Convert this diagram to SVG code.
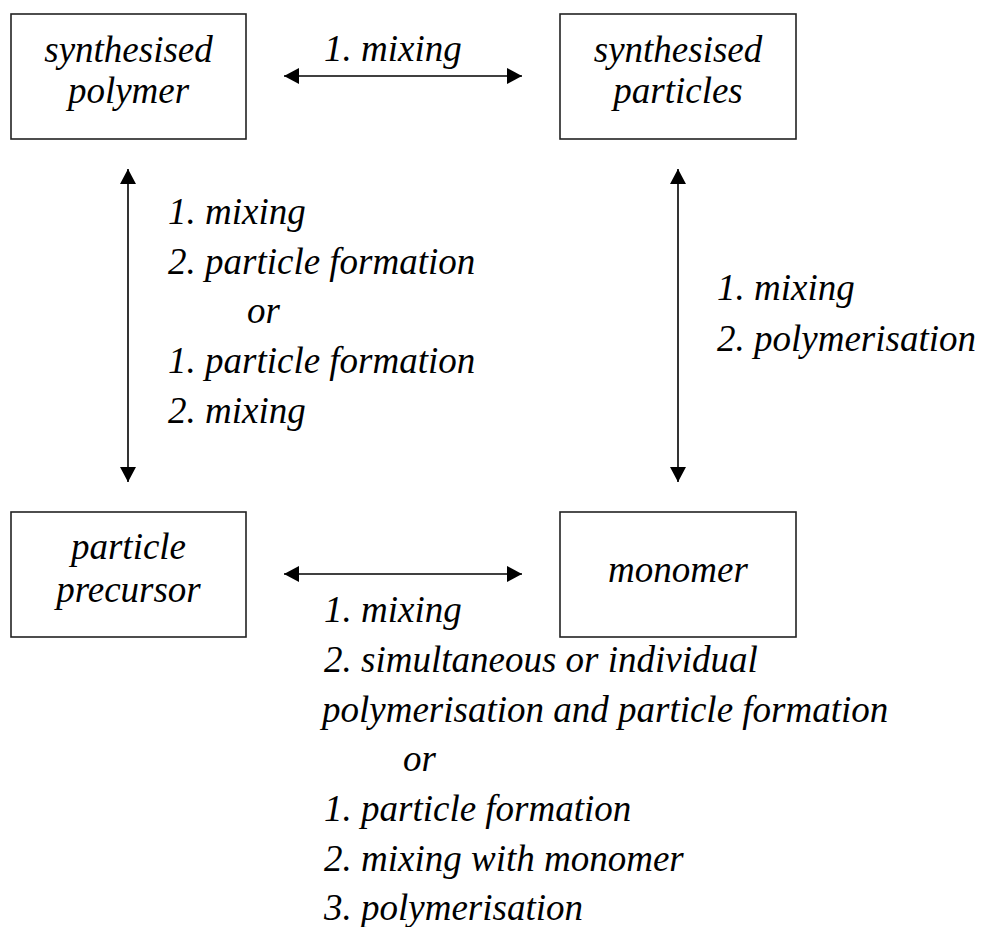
<svg xmlns="http://www.w3.org/2000/svg" width="984" height="927" viewBox="0 0 984 927">
<style>
.box{fill:#fff;stroke:#222;stroke-width:1.6}
.t{font-family:"Liberation Serif","Times New Roman",serif;font-style:italic;font-size:37px;fill:#000}
.c{text-anchor:middle}
.conn{stroke:#000;stroke-width:1.6;fill:none;marker-start:url(#ah);marker-end:url(#ah)}
</style>
<defs>
<marker id="ah" viewBox="0 0 15 16" refX="15" refY="8" markerWidth="15" markerHeight="16" markerUnits="userSpaceOnUse" orient="auto-start-reverse">
<path d="M0,0 L15,8 L0,16 z" fill="#000"/>
</marker>
</defs>
<rect width="984" height="927" fill="#fff"/>
<g id="n-synth-polymer">
<rect class="box" x="11" y="14" width="235" height="125"/>
<text class="t c" x="128.5" y="62">synthesised</text>
<text class="t c" x="128.5" y="103">polymer</text>
</g>
<g id="n-synth-particles">
<rect class="box" x="560" y="14" width="236" height="125"/>
<text class="t c" x="678" y="62">synthesised</text>
<text class="t c" x="678" y="103">particles</text>
</g>
<g id="n-precursor">
<rect class="box" x="11" y="512" width="235" height="125"/>
<text class="t c" x="128.5" y="559">particle</text>
<text class="t c" x="128.5" y="602">precursor</text>
</g>
<g id="n-monomer">
<rect class="box" x="560" y="512" width="236" height="125"/>
<text class="t c" x="678" y="582">monomer</text>
</g>
<g id="connectors">
<line class="conn" x1="284" y1="76" x2="522" y2="76"/>
<line class="conn" x1="284" y1="574" x2="522" y2="574"/>
<line class="conn" x1="128" y1="169" x2="128" y2="482"/>
<line class="conn" x1="678" y1="169" x2="678" y2="482"/>
</g>
<g id="labels">
<text class="t" x="324" y="61">1. mixing</text>
<text class="t" x="168" y="224">1. mixing</text>
<text class="t" x="168" y="274">2. particle formation</text>
<text class="t" x="247" y="323">or</text>
<text class="t" x="168" y="373">1. particle formation</text>
<text class="t" x="168" y="423">2. mixing</text>
<text class="t" x="717" y="300">1. mixing</text>
<text class="t" x="717" y="351">2. polymerisation</text>
<text class="t" x="324" y="622">1. mixing</text>
<text class="t" x="324" y="672">2. simultaneous or individual</text>
<text class="t" x="322" y="722">polymerisation and particle formation</text>
<text class="t" x="403" y="771">or</text>
<text class="t" x="324" y="821">1. particle formation</text>
<text class="t" x="324" y="871">2. mixing with monomer</text>
<text class="t" x="324" y="920">3. polymerisation</text>
</g>
</svg>
